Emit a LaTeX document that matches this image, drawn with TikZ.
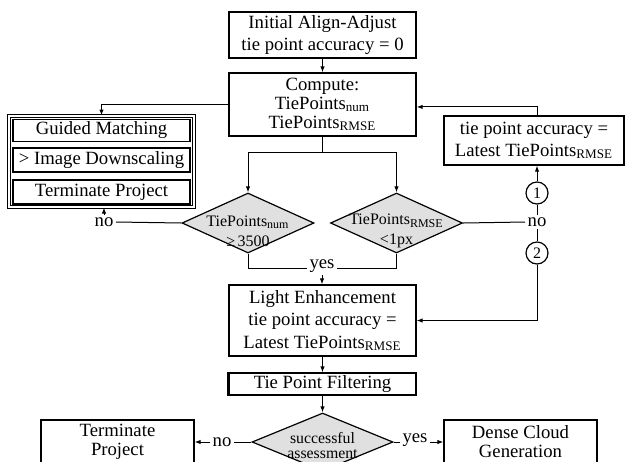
\documentclass[tikz,border=0pt]{standalone}
\usepackage{fontspec}
\setmainfont{Liberation Serif}
\usetikzlibrary{shapes.geometric,arrows.meta}

\begin{document}
\begin{tikzpicture}[x=0.5pt,y=-0.5pt,line width=0.5pt,>={Latex[length=3pt,width=2.2pt]},
    every node/.style={font=\fontsize{9.35}{11.25}\selectfont},
    box/.style={draw,line width=0.6pt,align=center,inner sep=0pt},
    dec/.style={draw,diamond,fill=black!12,line width=0.6pt,inner sep=0pt},
    dtext/.style={align=center,inner sep=0pt,font=\fontsize{8}{10}\selectfont},
    num/.style={draw,circle,line width=0.6pt,minimum size=11pt,inner sep=0pt,font=\fontsize{8}{8}\selectfont},
    lbl/.style={inner sep=1pt}]
    \useasboundingbox (0,0) rectangle (625,461);
    \clip (0,0) rectangle (625,461);

    % draw the main column
    \node[box,minimum width=93.5pt,minimum height=23pt] (init) at (322.5,35) {Initial Align-Adjust\\tie point accuracy = 0};
    \node[box,minimum width=93.5pt,minimum height=31.5pt,font=\fontsize{9.35}{9.5}\selectfont] (comp) at (322.5,104.5) {Compute:\\TiePoints\textsubscript{num}\\TiePoints\textsubscript{RMSE}};
    \node[box,minimum width=93.5pt,minimum height=35.5pt] (light) at (322.5,320.5) {Light Enhancement\\tie point accuracy =\\Latest TiePoints\textsubscript{RMSE}};
    \node[box,minimum width=93.5pt,minimum height=11pt] (filt) at (322.5,384) {Tie Point Filtering};
    \draw[line width=1.2pt] (filt.north west) -- (filt.south west);

    % left group
    \node[draw,double,double distance=0.8pt,minimum width=92.5pt,minimum height=45.5pt] (grp) at (101.5,161.5) {};
    \node[box,minimum width=88.5pt,minimum height=11pt] (gm) at (101.5,130.5) {Guided Matching};
    \node[box,minimum width=88.5pt,minimum height=12pt] (ids) at (101.5,160) {> Image Downscaling};
    \node[box,minimum width=88.5pt,minimum height=12pt] (tpr) at (101.5,192) {Terminate Project};

    % right box
    \node[box,minimum width=90pt,minimum height=24.5pt,font=\fontsize{9.35}{11}\selectfont] (tpa) at (534,140.5) {tie point accuracy =\\Latest TiePoints\textsubscript{RMSE}};

    % decisions
    \node[dec,minimum width=66pt,minimum height=30pt] (d1) at (248,223) {};
    \node[dtext] (d1t) at ([yshift=-4pt]d1.center) {TiePoints\textsubscript{num}\\≥\,3500};
    \node[dec,minimum width=66pt,minimum height=30pt] (d2) at (396.5,223) {};
    \node[dtext] (d2t) at ([yshift=-4pt]d2.center) {TiePoints\textsubscript{RMSE}\\<1px};
    \node[dec,minimum width=70.5pt,minimum height=29pt] (d3) at (322.5,442) {};
    \node[dtext,font=\fontsize{7.9}{7.4}\selectfont] (d3t) at ([yshift=-1.8pt]d3.center) {successful\\assessment};

    % circled numbers and labels
    \node[num] (c1) at (537,193) {1};
    \node[num] (c2) at (537,253) {2};
    \node[lbl] (no1) at (104,222) {no};
    \node[lbl] (no2) at (537,222) {no};
    \node[lbl] (yes1) at (322,266) {yes};
    \node[lbl] (no3) at (222,442) {no};
    \node[lbl] (yes3) at (415,440) {yes};

    % bottom boxes
    \node[box,minimum width=76.5pt,minimum height=22pt,font=\fontsize{9.35}{9.5}\selectfont] (term) at (117.5,442) {Terminate\\Project};
    \node[box,minimum width=76.5pt,minimum height=22pt,font=\fontsize{9.35}{9.5}\selectfont] (dense) at (520.5,442) {Dense Cloud\\Generation};

    % connectors
    \draw[->] (init) -- (comp);
    \draw[->] (comp.west) -| (grp.north);
    \coordinate (split) at (322.5,152);
    \draw (comp.south) -- (split);
    \draw[->] (split) -| (d1.north);
    \draw[->] (split) -| (d2.north);
    \draw (d1.west) -- (no1.east);
    \draw[->] (no1.north) -- (no1.north |- grp.south);
    \draw (d2.east) -- (no2.west);
    \draw (no2.north) -- (c1.south);
    \draw[->] (c1.north) -- (c1.north |- tpa.south);
    \draw[->] (c1.north |- tpa.north) |- ([yshift=-1.2pt]comp.east);
    \draw (no2.south) -- (c2.north);
    \draw[->] (c2.south) |- (light.east);
    \draw (d1.south) |- ([yshift=-1pt]yes1.west);
    \draw (d2.south) |- ([yshift=-1pt]yes1.east);
    \draw[->] (yes1.south) -- (yes1.south |- light.north);
    \draw[->] (light) -- (filt);
    \draw[->] (filt) -- (d3);
    \draw (d3.west) -- (no3.east);
    \draw[->] (no3.west) -- (term.east);
    \draw (d3.east) -- (yes3.west |- d3.east);
    \draw[->] (yes3.east |- d3.east) -- (dense.west);
\end{tikzpicture}
\end{document}
